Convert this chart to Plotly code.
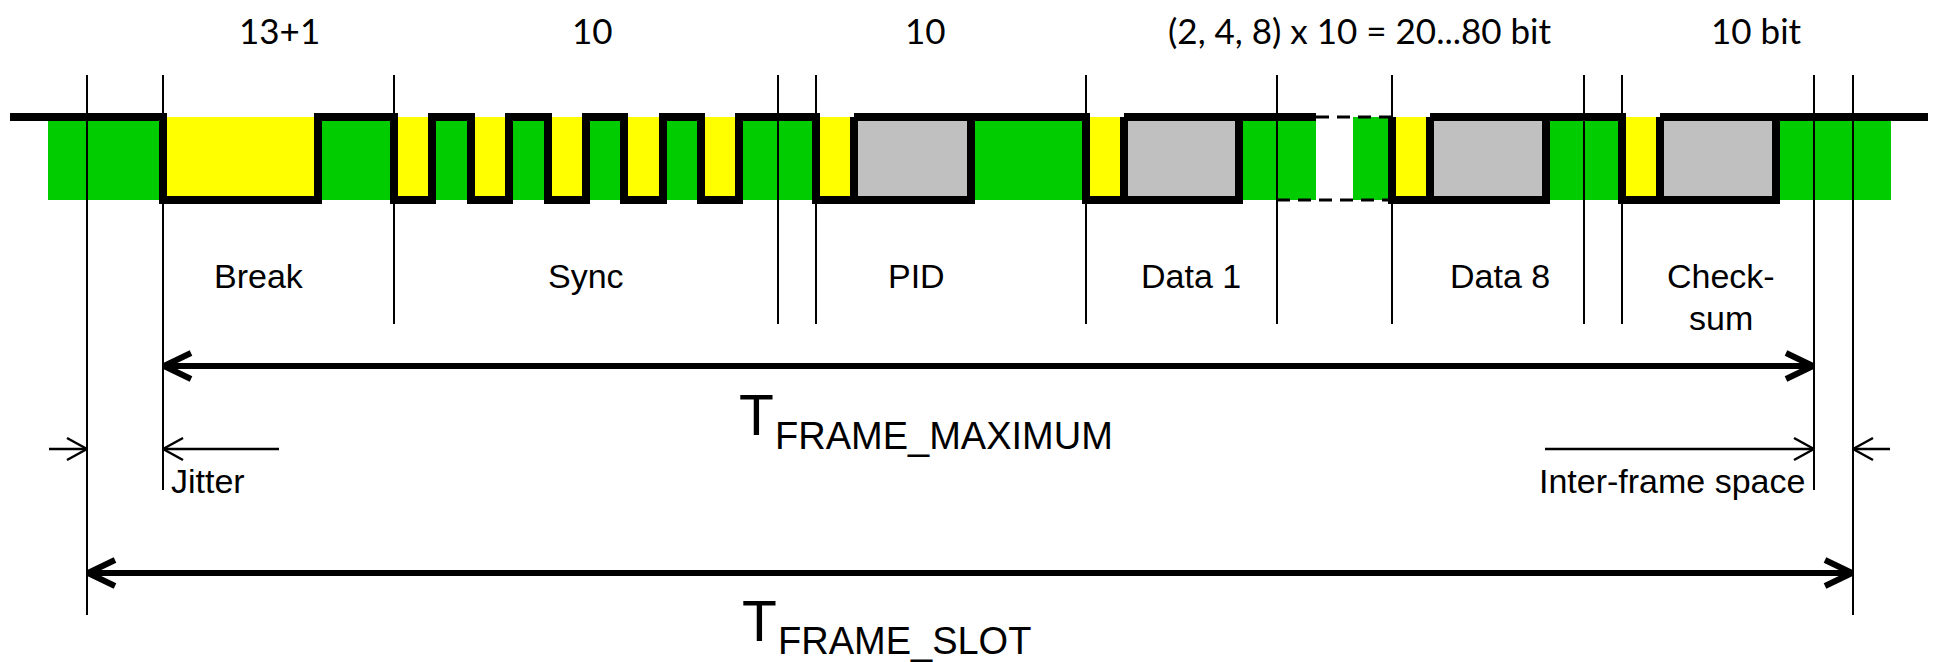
import plotly.graph_objects as go

# ---------------- data (diagram time axis, left -> right) ----------------
bus_start = 10
bus_end = 1928
# signal transitions (bus starts recessive/high); part 1 ends where the dashed gap begins
edges_part1 = [163, 318, 394, 432, 471, 509, 548, 586, 624, 663, 701, 739, 816, 971, 1086, 1239]
part1_end = 1316
edges_part2 = [1392, 1546, 1622, 1776]
part2_start = 1392
# undefined data bits (grey boxes)
box_start = [854, 1124, 1430, 1660]
box_end = [971, 1239, 1546, 1776]
# background (green band) and omitted bytes
band_start, band_end = 48, 1891
omit_start, omit_end = 1316, 1353
dash_top = [1316, 1392]
dash_bottom = [1277, 1392]

# vertical field boundaries
guide_x = [87, 163, 394, 778, 816, 1086, 1277, 1392, 1584, 1622, 1814, 1853]
guide_len = ["slot", "frame", "field", "field", "field", "field", "field", "field", "field", "field", "frame", "slot"]

bit_labels = ["13+1", "10", "10", "(2, 4, 8) x 10 = 20...80 bit", "10 bit"]
bit_label_x = [279, 592, 925, 1360, 1756]

field_labels = ["Break", "Sync", "PID", "Data 1", "Data 8", "Check-", "sum"]
field_label_x = [259, 586, 916, 1191, 1500, 1721, 1721]
field_label_row = [0, 0, 0, 0, 0, 0, 1]

t_frame_max = (163, 1814)
t_frame_slot = (87, 1853)
jitter = (279, 163)
outer_left = (49, 87)
ifs = (1545, 1814)
outer_right = (1890, 1853)

# ---------------- layout constants ----------------
W, H = 1935, 662
HIGH_Y, LOW_Y = 117, 200
GUIDE_TOP = 75
GUIDE_BOTTOM = {"field": 324, "frame": 490, "slot": 615}
GREEN, YELLOW, GREY = "#00CC00", "#FFFF00", "#C0C0C0"

fig = go.Figure()


def rect(x0, x1, y0, y1, color, line=None):
    fig.add_trace(go.Scatter(
        x=[x0, x1, x1, x0, x0], y=[y0, y0, y1, y1, y0], mode="lines",
        fill="toself", fillcolor=color,
        line=dict(color=line if line else color, width=8 if line else 0),
        hoverinfo="skip", showlegend=False))


def poly(xs, ys, width, color="black", dash=None):
    fig.add_trace(go.Scatter(
        x=xs, y=ys, mode="lines",
        line=dict(color=color, width=width, dash=dash),
        hoverinfo="skip", showlegend=False))


def path(start, edges, end):
    lvl = True
    xs, ys = [start], [HIGH_Y]
    for e in edges:
        xs.append(e); ys.append(HIGH_Y if lvl else LOW_Y)
        lvl = not lvl
        xs.append(e); ys.append(HIGH_Y if lvl else LOW_Y)
    xs.append(end); ys.append(HIGH_Y if lvl else LOW_Y)
    return xs, ys


# green band
rect(band_start, omit_start, HIGH_Y, LOW_Y, GREEN)
rect(omit_end, band_end, HIGH_Y, LOW_Y, GREEN)

# yellow dominant bits (low intervals minus data boxes)
lows = []
for edges in (edges_part1, edges_part2):
    lows += list(zip(edges[0::2], edges[1::2]))
for f, r in lows:
    end = r
    for bs in box_start:
        if f < bs < r:
            end = bs
    rect(f, end, HIGH_Y, LOW_Y, YELLOW)

# guide lines
for gx, gl in zip(guide_x, guide_len):
    poly([gx, gx], [GUIDE_TOP, GUIDE_BOTTOM[gl]], 2)

# grey data boxes
for bs, be in zip(box_start, box_end):
    rect(bs, be, HIGH_Y, LOW_Y, GREY, line="black")

# bus signal
xs, ys = path(bus_start, edges_part1, part1_end)
poly(xs, ys, 8)
xs, ys = path(part2_start, edges_part2, bus_end)
poly(xs, ys, 8)
poly(dash_top, [HIGH_Y, HIGH_Y], 3, dash="13px,8px")
poly(dash_bottom, [LOW_Y, LOW_Y], 3, dash="13px,8px")


def arrow(x_from, x_to, y, width, head_dx, head_dy, both=False):
    poly([x_from, x_to], [y, y], width)
    s = 1 if x_to > x_from else -1
    poly([x_to - s * head_dx, x_to, x_to - s * head_dx], [y - head_dy, y, y + head_dy], width)
    if both:
        poly([x_from + s * head_dx, x_from, x_from + s * head_dx], [y - head_dy, y, y + head_dy], width)


arrow(t_frame_max[0] + 1, t_frame_max[1] - 1, 366, 6, 27, 13, both=True)
arrow(t_frame_slot[0] + 1, t_frame_slot[1] - 1, 573, 6, 27, 13, both=True)
arrow(*jitter, 449, 2.5, 20, 11)
arrow(*outer_left, 449, 2.5, 20, 11)
arrow(*ifs, 449, 2.5, 20, 11)
arrow(*outer_right, 449, 2.5, 20, 11)

ann = []
TOPFONT = dict(family="Lato, 'Open Sans', sans-serif", size=35, color="black")
MIDFONT = dict(family="'Liberation Sans', Arial, sans-serif", size=34, color="black")
for t, x in zip(bit_labels, bit_label_x):
    ann.append(dict(x=x, y=30, text=t, font=TOPFONT, xanchor="center", yanchor="middle"))
for t, x, r in zip(field_labels, field_label_x, field_label_row):
    ann.append(dict(x=x, y=276 + 42 * r, text=t, font=MIDFONT, xanchor="center", yanchor="middle"))
ann.append(dict(x=170, y=481, text="Jitter", font=MIDFONT, xanchor="left", yanchor="middle"))
ann.append(dict(x=1806, y=481, text="Inter-frame space", font=MIDFONT, xanchor="right", yanchor="middle"))

TFONT = dict(family="'Liberation Sans', Arial, sans-serif", size=57, color="black")
SFONT = dict(family="'Liberation Sans', Arial, sans-serif", size=38, color="black")
ann.append(dict(x=738, y=415, text="T", font=TFONT, xanchor="left", yanchor="middle"))
ann.append(dict(x=774, y=436, text="FRAME_MAXIMUM", font=SFONT, xanchor="left", yanchor="middle"))
ann.append(dict(x=741, y=621, text="T", font=TFONT, xanchor="left", yanchor="middle"))
ann.append(dict(x=777, y=641, text="FRAME_SLOT", font=SFONT, xanchor="left", yanchor="middle"))
for a in ann:
    a.update(xref="x", yref="y", showarrow=False, borderpad=0)

fig.update_layout(
    width=W, height=H, autosize=False,
    margin=dict(l=0, r=0, t=0, b=0),
    paper_bgcolor="white", plot_bgcolor="white",
    xaxis=dict(range=[0, W], visible=False, fixedrange=True),
    yaxis=dict(range=[H, 0], visible=False, fixedrange=True),
    annotations=ann, showlegend=False,
)
fig.write_html(
    "out.html",
    config={"displayModeBar": False},
    post_script="document.body.style.margin='0';document.body.style.overflow='hidden';",
)
